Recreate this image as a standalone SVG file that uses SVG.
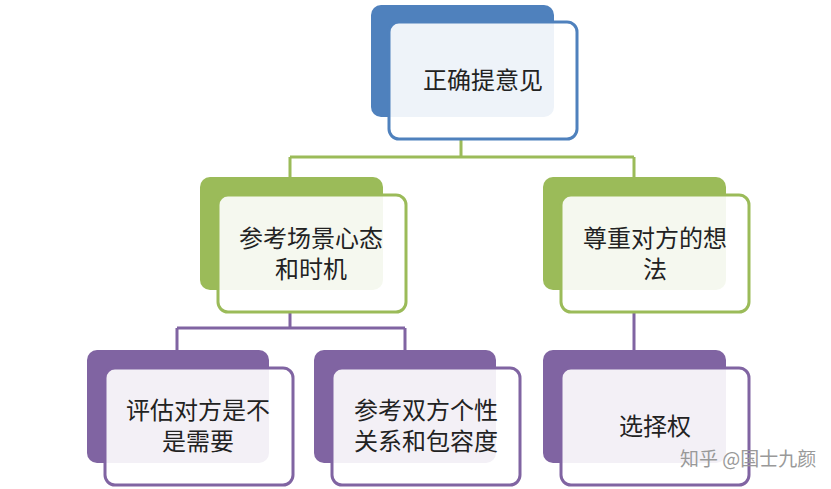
<svg xmlns="http://www.w3.org/2000/svg" width="831" height="489" viewBox="0 0 831 489">
<style>
.bk{stroke:none}
.fr{fill:#fff;fill-opacity:0.9;stroke-width:3}
.b .bk{fill:#4F81BD}.b .fr{stroke:#4F81BD}
.g .bk{fill:#9BBB59}.g .fr{stroke:#9BBB59}
.p .bk{fill:#8064A2}.p .fr{stroke:#8064A2}
text{font-family:"Noto Sans CJK SC",sans-serif;font-size:24px;fill:#222;text-anchor:middle}
.wm{font-size:19px;fill:#999;text-anchor:start}
</style>
<rect width="831" height="489" fill="#fff"/>
<g id="connectors" fill="none" stroke-width="3">
<path d="M461 139V157M290 157H634M290 157V177M634 157V177" stroke="#9BBB59"/>
<path d="M290 312V328M177 328H405M177 328V350M405 328V350M634 312V350" stroke="#8064A2"/>
</g>
<g id="n1" class="b"><rect class="bk" x="371" y="5" width="183" height="112" rx="10"/><rect class="fr" x="389" y="22" width="188" height="117" rx="10"/><text x="483" y="89">正确提意见</text></g>
<g id="n2" class="g"><rect class="bk" x="200" y="177" width="183" height="113" rx="10"/><rect class="fr" x="218" y="195" width="188" height="117" rx="10"/><text x="311" y="247">参考场景心态<tspan x="311" y="278">和时机</tspan></text></g>
<g id="n3" class="g"><rect class="bk" x="543" y="177" width="183" height="113" rx="10"/><rect class="fr" x="561" y="195" width="188" height="117" rx="10"/><text x="655" y="247">尊重对方的想<tspan x="655" y="278">法</tspan></text></g>
<g id="n4" class="p"><rect class="bk" x="87" y="350" width="182" height="113" rx="10"/><rect class="fr" x="105" y="368" width="188" height="117" rx="10"/><text x="198" y="419">评估对方是不<tspan x="198" y="450">是需要</tspan></text></g>
<g id="n5" class="p"><rect class="bk" x="314" y="350" width="182" height="113" rx="10"/><rect class="fr" x="332" y="368" width="188" height="117" rx="10"/><text x="426" y="419">参考双方个性<tspan x="426" y="450">关系和包容度</tspan></text></g>
<g id="n6" class="p"><rect class="bk" x="543" y="350" width="183" height="113" rx="10"/><rect class="fr" x="561" y="368" width="188" height="117" rx="10"/><text x="655" y="435">选择权</text></g>
<text class="wm" x="680" y="466">知乎 @国士九颜</text>
</svg>
